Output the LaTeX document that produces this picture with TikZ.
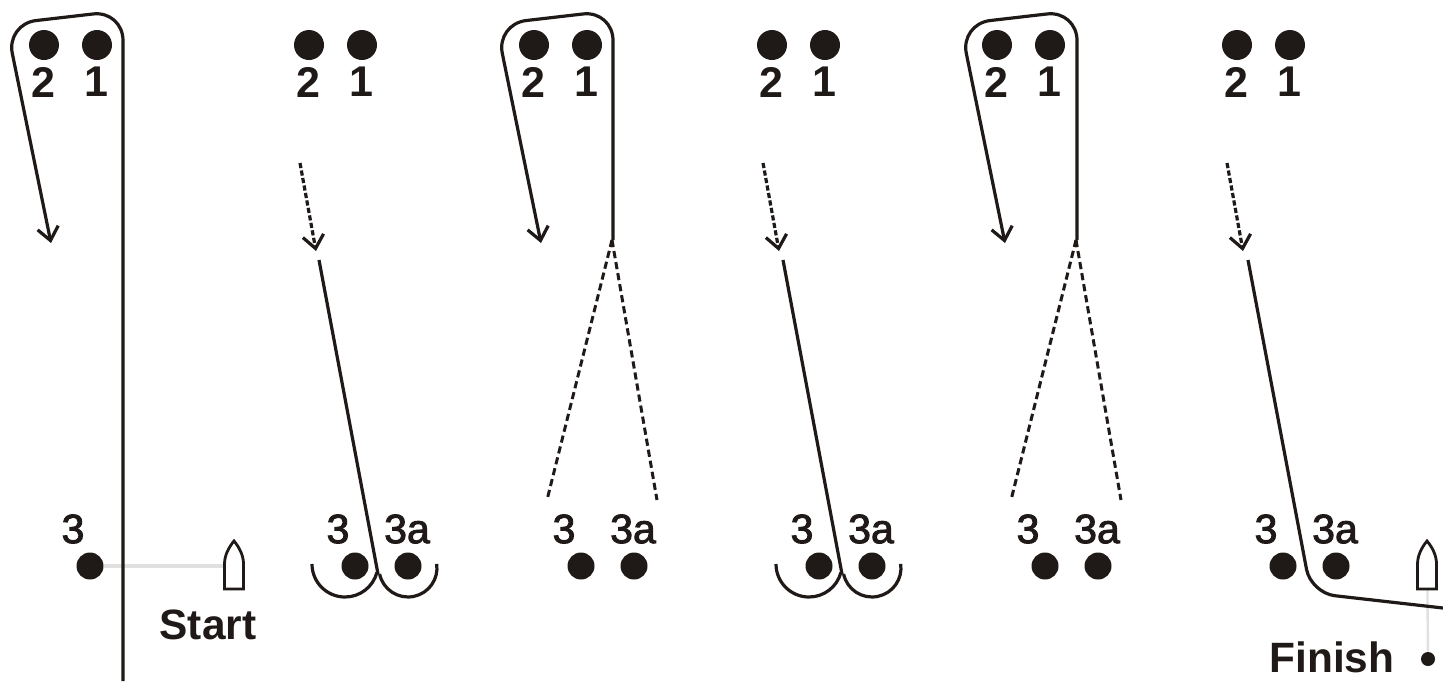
\documentclass[tikz,border=0pt]{standalone}
\usepackage{fontspec}
\setmainfont{Liberation Sans}
\newfontfamily\semibold[FakeBold=2.2]{Liberation Sans}
\definecolor{inkDark}{HTML}{1F1A17}
\definecolor{layGrey}{HTML}{E0E0E0}
\usetikzlibrary{arrows.meta}
\newcommand{\boatshape}[1]{%
  \draw[boatline] (#1) ++(-9.5,48) -- ++(0,-25) .. controls +(0,-9) and +(-5,6) .. ++(9.5,-23)
    .. controls +(5,6) and +(0,-9) .. ++(9.5,23) -- ++(0,25) -- cycle;}

\begin{document}
\begin{tikzpicture}[
  x=0.5pt, y=-0.5pt,
  buoy/.style={circle, fill=inkDark, inner sep=0pt, minimum size=13.5pt},
  bigbuoy/.style={buoy, minimum size=15pt},
  tinybuoy/.style={buoy, minimum size=7pt},
  num/.style={font=\bfseries\fontsize{21.5}{22}\selectfont, text=inkDark, inner sep=0pt},
  gatenum/.style={font=\semibold\fontsize{20.5}{22}\selectfont, text=inkDark, inner sep=0pt},
  word/.style={font=\bfseries\fontsize{21.2}{22}\selectfont, text=inkDark, inner sep=0pt},
  course/.style={draw=inkDark, line width=1.6pt},
  loopcourse/.style={course, rounded corners=15pt, -{Straight Barb[length=6.5pt, width=10.5pt]}},
  hint/.style={draw=inkDark, line width=1.5pt, dash pattern=on 3.6pt off 2pt},
  hintarrow/.style={draw=inkDark, line width=1.6pt, dash pattern=on 2.6pt off 1.2pt,
    -{Straight Barb[length=6.5pt, width=10.5pt]}},
  layline/.style={draw=layGrey, line width=1.8pt},
  pinline/.style={draw=layGrey, line width=1.2pt},
  boatline/.style={draw=inkDark, line width=1.4pt, fill=white}
]
  \useasboundingbox (0,0) rectangle (1443,681);

  % top marks
  \node[bigbuoy] (a2) at (44,45) {};   \node[bigbuoy] (a1) at (97,45) {};
  \node[bigbuoy] (b2) at (309,45) {};  \node[bigbuoy] (b1) at (362,45) {};
  \node[bigbuoy] (c2) at (534,45) {};  \node[bigbuoy] (c1) at (587,45) {};
  \node[bigbuoy] (d2) at (772,45) {};  \node[bigbuoy] (d1) at (825,45) {};
  \node[bigbuoy] (e2) at (997,45) {};  \node[bigbuoy] (e1) at (1050,45) {};
  \node[bigbuoy] (f2) at (1237,45) {}; \node[bigbuoy] (f1) at (1290,45) {};
  \node[num] at (43,82) {2};   \node[num] at (96,82) {1};
  \node[num] at (308,82) {2};  \node[num] at (361,82) {1};
  \node[num] at (533,82) {2};  \node[num] at (586,82) {1};
  \node[num] at (771,82) {2};  \node[num] at (824,82) {1};
  \node[num] at (996,82) {2};  \node[num] at (1049,82) {1};
  \node[num] at (1236,82) {2}; \node[num] at (1289,82) {1};

  % bottom marks
  \node[buoy] (a3) at (90,566) {};
  \node[buoy] (b3) at (355,566) {};   \node[buoy] (b3a) at (408,566) {};
  \node[buoy] (c3) at (581,566) {};   \node[buoy] (c3a) at (634,566) {};
  \node[buoy] (d3) at (819,566) {};   \node[buoy] (d3a) at (872,566) {};
  \node[buoy] (e3) at (1045,566) {};  \node[buoy] (e3a) at (1098,566) {};
  \node[buoy] (f3) at (1283,566) {};  \node[buoy] (f3a) at (1336,566) {};
  \node[gatenum] at (73,529) {3};
  \node[gatenum] at (338,529) {3};   \node[gatenum] at (407,529) {3a};
  \node[gatenum] at (564,529) {3};   \node[gatenum] at (633,529) {3a};
  \node[gatenum] at (802,529) {3};   \node[gatenum] at (871,529) {3a};
  \node[gatenum] at (1028,529) {3};  \node[gatenum] at (1097,529) {3a};
  \node[gatenum] at (1266,529) {3};  \node[gatenum] at (1335,529) {3a};

  % start and finish
  \coordinate (startboat) at (234,541);
  \coordinate (finishboat) at (1427,541);
  \node[tinybuoy] (pin) at (1428,659) {};
  \draw[layline] (a3) -- (234,566);
  \draw[pinline] (finishboat) -- (pin);
  \boatshape{startboat}
  \boatshape{finishboat}
  \node[word] (startlbl) at (208,625) {Start};
  \node[word] (finishlbl) at (1332,657) {Finish};

  % first beat with loop, arrow at the end
  \draw[loopcourse] (123,681) -- (123,10.5) -- (6.3,24) -- (51,243);
  \draw[loopcourse] (613,240) -- (613,10.5) -- (496.3,24) -- (541,243);
  \draw[loopcourse] (1077,240) -- (1077,10.5) -- (960.3,24) -- (1005,243);

  % split after the gate
  \draw[hint] (612,240) -- (547,500);
  \draw[hint] (612,240) -- (657,500);
  \draw[hint] (1076,240) -- (1011,500);
  \draw[hint] (1076,240) -- (1121,500);

  % short dashed leads
  \draw[hintarrow] (300,163) -- (316,251);
  \draw[hintarrow] (763,163) -- (779,251);
  \draw[hintarrow] (1227,163) -- (1243,251);

  % down to the gate, round either mark
  \draw[course] (319,260) -- (378,574);
  \draw[course] (312,564) arc[start angle=180, end angle=15, radius=33];
  \draw[course] (379.6,574) arc[start angle=168, end angle=-8, radius=29];
  \draw[course] (783,260) -- (842,574);
  \draw[course] (776,564) arc[start angle=180, end angle=15, radius=33];
  \draw[course] (843.6,574) arc[start angle=168, end angle=-8, radius=29];

  % last leg to the line
  \draw[course, rounded corners=12pt] (1248,260) -- (1311,593) -- (1443,608);
\end{tikzpicture}
\end{document}
